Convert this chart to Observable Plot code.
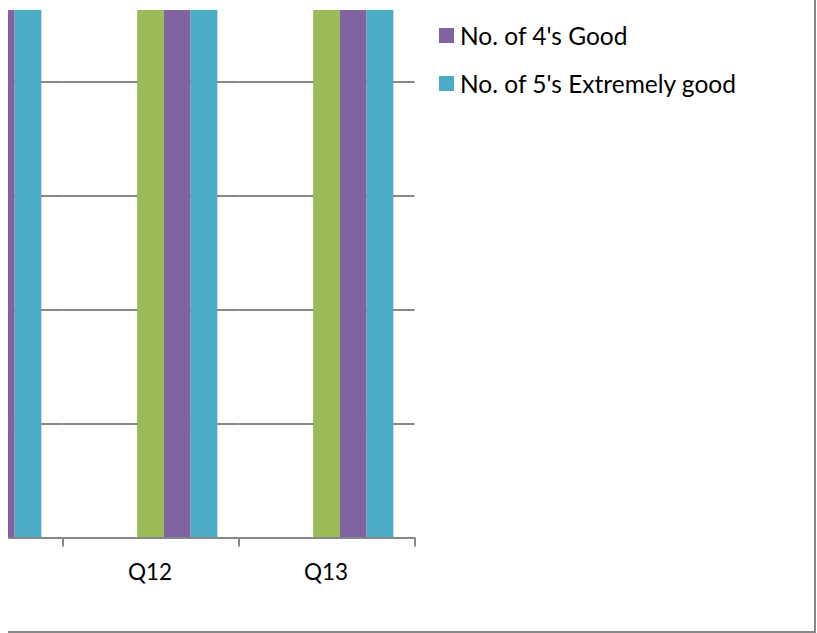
<!DOCTYPE html>
<html><head><meta charset="utf-8">
<script src="https://cdn.jsdelivr.net/npm/d3@7"></script>
<script src="https://cdn.jsdelivr.net/npm/@observablehq/plot@0.6"></script>
<style>
html,body{margin:0;padding:0;background:#fff;}
#page{position:relative;width:817px;height:633px;overflow:hidden;background:#fff;font-family:Lato,"Noto Sans",sans-serif;}
#border{position:absolute;left:8px;top:-10px;width:806px;height:641px;border-right:2px solid #878787;border-bottom:2px solid #878787;}
#plotwrap{position:absolute;left:8px;top:10px;width:412px;height:600px;overflow:hidden;}
#legend{position:absolute;left:439px;top:11px;}
.item{display:flex;align-items:center;height:48px;font-size:24.5px;color:#000;white-space:nowrap;}
.sw{width:15px;height:15px;margin-right:6px;flex:none;}
</style></head><body>
<div id="page"><div id="border"></div><div id="plotwrap"></div><div id="legend"></div></div>
<script>
// ---- data ----
const questions = ["Q11", "Q12", "Q13"];
const seriesNames = ["No. of 1's Extremely poor", "No. of 2's Poor", "No. of 3's Average", "No. of 4's Good", "No. of 5's Extremely good"];
const ones   = [0, 0, 0];
const twos   = [0, 0, 0];
const threes = [55, 58, 57];
const fours  = [62, 66, 64];
const fives  = [68, 72, 70];
const yTicks = [0, 10, 20, 30, 40];
const legendSeries = ["No. of 4's Good", "No. of 5's Extremely good"];
const labelTicks = ["Q12", "Q13"];

// ---- styles ----
const seriesColors = ["#4F81BD", "#C0504D", "#9BBB59", "#8064A2", "#4BACC6"];
const gray = "#878787";

const seriesValues = [ones, twos, threes, fours, fives];
const rows = [];
seriesNames.forEach((s, si) => questions.forEach((q, qi) => rows.push({q, series: s, value: seriesValues[si][qi]})));

const W = 412, H = 600;
const step = 176;
const right = 406.5;
const fxRange = [right - questions.length * step, right];

const plot = Plot.plot({
  width: W, height: H,
  marginTop: 71.5, marginBottom: 72.5, marginLeft: 0, marginRight: W - right,
  style: {fontFamily: "Lato, sans-serif", background: "white", overflow: "hidden"},
  fx: {domain: questions, range: fxRange, padding: 0, round: false, axis: null, label: null},
  x: {domain: seriesNames, range: [0, step], paddingInner: 0, paddingOuter: 0.79, round: false, axis: null},
  y: {domain: [0, 40], axis: null},
  color: {domain: seriesNames, range: seriesColors},
  marks: [
    Plot.gridY(yTicks, {stroke: gray, strokeOpacity: 1, strokeWidth: 2}),
    Plot.barY(rows, {fx: "q", x: "series", y: "value", fill: "series"}),
    Plot.ruleY([0], {stroke: gray, strokeWidth: 2}),
    Plot.axisFx({anchor: "bottom", tickSize: 9, tickFormat: () => "", label: null, dx: step / 2, stroke: gray, strokeWidth: 2, strokeOpacity: 1}),
    Plot.text(labelTicks, {fx: d => d, text: d => d, frameAnchor: "bottom", lineAnchor: "top", dy: 26, dx: -1, fontSize: 22.5, fill: "#000"})
  ]
});
document.getElementById("plotwrap").appendChild(plot);

const legend = d3.select("#legend");
legendSeries.forEach(name => {
  const item = legend.append("div").attr("class", "item");
  item.append("div").attr("class", "sw").style("background", seriesColors[seriesNames.indexOf(name)]);
  item.append("span").text(name);
});
</script>
</body></html>
